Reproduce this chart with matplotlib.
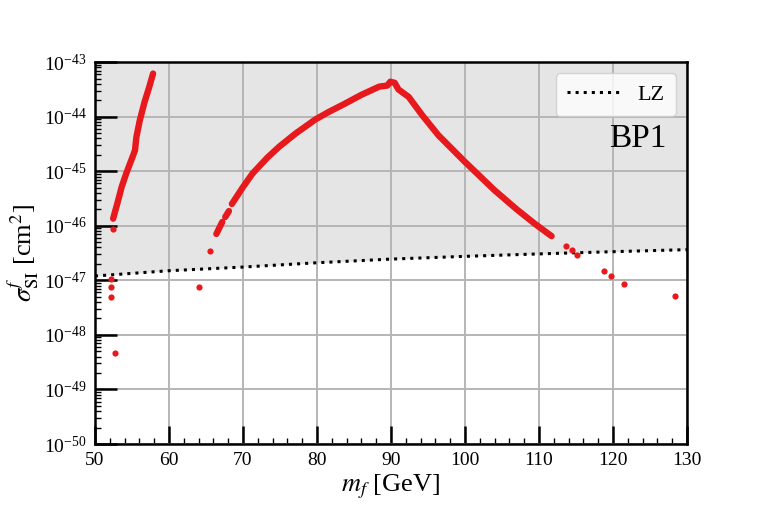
import numpy as np
import matplotlib
matplotlib.use("Agg")
import matplotlib.pyplot as plt
from matplotlib.ticker import MultipleLocator, LogLocator, NullFormatter

plt.rcParams['font.family'] = ['Liberation Serif', 'DejaVu Serif']
plt.rcParams['mathtext.fontset'] = 'stix'

# LZ upper limit (GeV, cm^2)
lz_mass = [50, 60, 70, 80, 90, 100, 110, 120, 130]
lz_sigma = [1.2e-47, 1.5e-47, 1.75e-47, 2.1e-47, 2.45e-47, 2.75e-47, 3.05e-47, 3.35e-47, 3.65e-47]

# left branch, log10(sigma)
left_mass = [52.45, 53.0, 53.6, 54.2, 54.9, 55.4, 55.6, 56.05, 56.7, 57.3, 57.85]
left_logsig = [-45.87, -45.60, -45.29, -45.05, -44.80, -44.62, -44.37, -44.07, -43.73, -43.47, -43.21]

# middle branch: two short pieces, then the long continuous piece
mid_a_mass = [66.4, 67.2]
mid_a_logsig = [-46.15, -45.93]
mid_b_mass = [67.6, 68.1]
mid_b_logsig = [-45.84, -45.73]
mid_mass = [68.5, 70.0, 71.3, 73.3, 74.9, 77.1, 79.8, 81.5, 83.8, 86.0,
            88.4, 89.5, 89.9, 90.5, 91.0, 92.4, 94.2, 96.4, 100.0, 104.0, 107.0, 109.4, 111.7]
mid_logsig = [-45.60, -45.29, -45.04, -44.75, -44.55, -44.31, -44.05, -43.92, -43.76, -43.60,
              -43.45, -43.43, -43.36, -43.38, -43.50, -43.64, -43.97, -44.34, -44.83, -45.35, -45.70, -45.96, -46.19]

# isolated points
iso_mass = [52.15, 52.15, 52.15, 52.4, 52.7, 64.1, 65.6, 113.6, 114.5, 115.2, 118.8, 119.7, 121.5, 128.4]
iso_sigma = [1.08e-47, 7.5e-48, 5.0e-48, 8.9e-47, 4.7e-49, 7.6e-48, 3.5e-47, 4.2e-47, 3.6e-47, 2.9e-47,
             1.48e-47, 1.2e-47, 8.7e-48, 5.1e-48]

red = '#e8191c'

fig = plt.figure(figsize=(7.63, 5.09), dpi=100)
ax = fig.add_axes([0.1245, 0.1277, 0.7759, 0.7503])

# excluded region above LZ
ax.fill_between(lz_mass, lz_sigma, 1e-43, color='#e5e5e5', zorder=0, lw=0)
ax.plot(lz_mass, lz_sigma, ls=':', color='black', lw=2.2, label='LZ', zorder=3)

for xs, ls in [(left_mass, left_logsig), (mid_a_mass, mid_a_logsig),
               (mid_b_mass, mid_b_logsig), (mid_mass, mid_logsig)]:
    ax.plot(xs, 10.0 ** np.array(ls), color=red, lw=4.6,
            solid_capstyle='round', solid_joinstyle='round', zorder=4)
ax.scatter(iso_mass, iso_sigma, s=20, color=red, lw=0, zorder=4)

ax.set_yscale('log')
ax.set_xlim(50, 130)
ax.set_ylim(1e-50, 1e-43)

ax.xaxis.set_major_locator(MultipleLocator(10))
ax.xaxis.set_minor_locator(MultipleLocator(2))
ax.yaxis.set_major_locator(LogLocator(base=10, numticks=20))
ax.yaxis.set_minor_locator(LogLocator(base=10, subs=np.arange(2, 10), numticks=20))
ax.yaxis.set_minor_formatter(NullFormatter())

ax.tick_params(which='major', direction='in', width=1.8, labelsize=14,
               top=False, right=False, pad=6)
ax.tick_params(axis='y', which='major', length=16)
ax.tick_params(axis='x', which='major', length=13)
ax.tick_params(which='minor', direction='in', length=4.5, width=1.0, top=False, right=False)

ax.grid(True, which='major', color='#b5b5b5', lw=1.4, zorder=1)
ax.set_axisbelow(False)
for s in ax.spines.values():
    s.set_linewidth(1.8)
    s.set_zorder(5)

ax.set_xlabel(r'$m_f$ [GeV]', fontsize=19, labelpad=2)
ax.set_ylabel(r'$\sigma^f_{\rm SI}$ [cm$^2$]', fontsize=19, labelpad=2)

leg = ax.legend(loc='upper right', fontsize=16, frameon=True, fancybox=True,
                handlelength=2.4, borderpad=0.5)
leg.get_frame().set_facecolor('white')
leg.get_frame().set_alpha(0.8)
leg.get_frame().set_edgecolor('#cccccc')

ax.text(0.965, 0.80, 'BP1', transform=ax.transAxes, ha='right', va='center', fontsize=24)

fig.savefig('out.png', dpi=100)
